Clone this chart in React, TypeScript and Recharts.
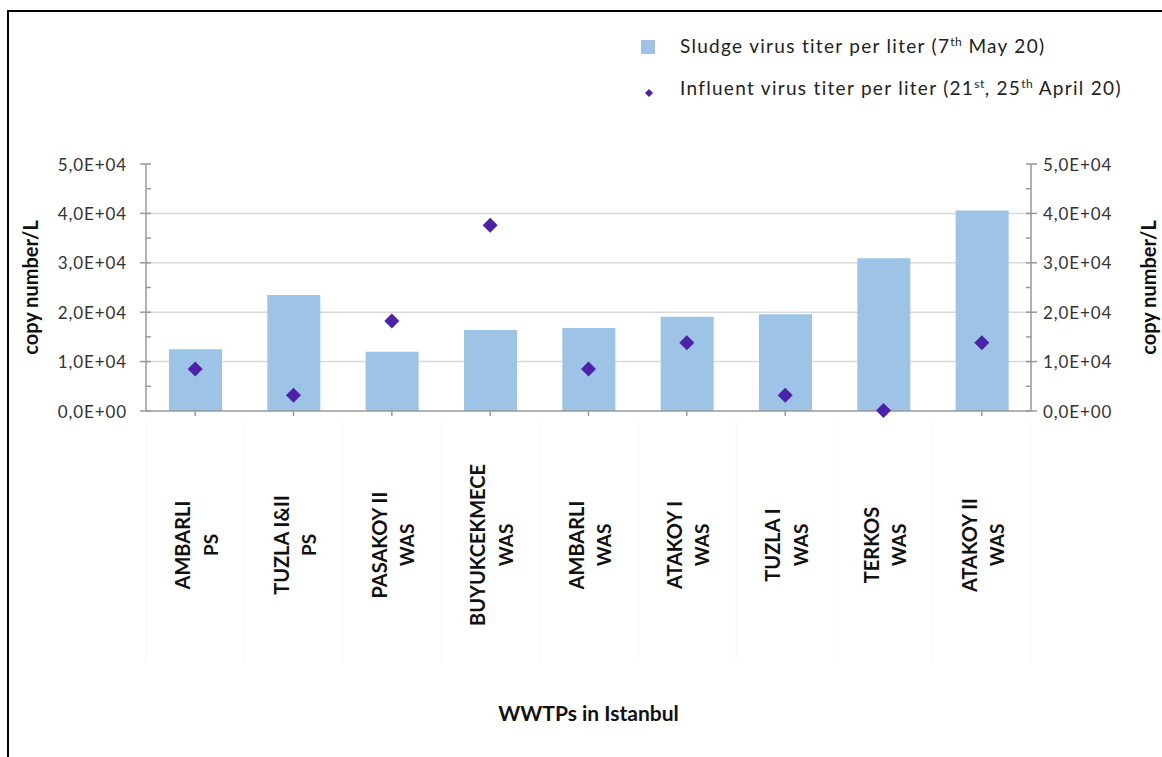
import React from "react";
import {
  ComposedChart,
  Bar,
  Scatter,
  XAxis,
  YAxis,
  CartesianGrid,
  Label,
} from "recharts";

// plant names and treatment type (second label line)
const plants = [
  "AMBARLI",
  "TUZLA I&II",
  "PASAKOY II",
  "BUYUKCEKMECE",
  "AMBARLI",
  "ATAKOY I",
  "TUZLA I",
  "TERKOS",
  "ATAKOY II",
];
const types = ["PS", "PS", "WAS", "WAS", "WAS", "WAS", "WAS", "WAS", "WAS"];

// copy number / L
const sludge = [12500, 23500, 12000, 16400, 16800, 19100, 19600, 30900, 40600];
const influent = [8500, 3200, 18200, 37600, 8500, 13800, 3200, 100, 13800];

const yTicks = [0, 5000, 10000, 15000, 20000, 25000, 30000, 35000, 40000, 45000, 50000];
const gridValues = [10000, 20000, 30000, 40000];

const data = plants.map((p, i) => ({
  id: `${p} ${types[i]} ${i}`,
  sludge: sludge[i],
  influent: influent[i],
}));

const FONT = "Lato, 'Open Sans', sans-serif";
const AXIS = "#999999";
const BAR = "#9DC3E6";
const DOT = "#4B22A8";

const fmt = (v: number) => {
  if (v === 0) return "0,0E+00";
  const e = Math.floor(Math.log10(v));
  const m = (v / Math.pow(10, e)).toFixed(1).replace(".", ",");
  return `${m}E+${String(e).padStart(2, "0")}`;
};

const LeftTick = (props: any) => {
  const { x, y, payload } = props;
  const major = payload.value % 10000 === 0;
  return (
    <g>
      {major ? (
        <>
          <line x1={x - 6} x2={x + 5} y1={y} y2={y} stroke={AXIS} strokeWidth={1.5} />
          <text
            x={x - 19}
            y={y}
            textAnchor="end"
            dominantBaseline="central"
            fontFamily={FONT}
            fontSize={17}
            letterSpacing={0.9}
            fill="#333"
          >
            {fmt(payload.value)}
          </text>
        </>
      ) : (
        <line x1={x} x2={x + 5} y1={y} y2={y} stroke={AXIS} strokeWidth={1.5} />
      )}
    </g>
  );
};

const RightTick = (props: any) => {
  const { x, y, payload } = props;
  const major = payload.value % 10000 === 0;
  return (
    <g>
      {major ? (
        <>
          <line x1={x - 5} x2={x + 6} y1={y} y2={y} stroke={AXIS} strokeWidth={1.5} />
          <text
            x={x + 12}
            y={y}
            textAnchor="start"
            dominantBaseline="central"
            fontFamily={FONT}
            fontSize={17}
            letterSpacing={0.9}
            fill="#333"
          >
            {fmt(payload.value)}
          </text>
        </>
      ) : (
        <line x1={x - 5} x2={x} y1={y} y2={y} stroke={AXIS} strokeWidth={1.5} />
      )}
    </g>
  );
};

const PlantTick = (props: any) => {
  const { x, y, index } = props;
  const cy = y + 127;
  const half = 49;
  return (
    <g>
      <line x1={x - half} x2={x - half} y1={y + 2} y2={y + 244} stroke="#f7f7f7" />
      {index === plants.length - 1 && (
        <line x1={x + half} x2={x + half} y1={y + 2} y2={y + 244} stroke="#f7f7f7" />
      )}
      <text
        x={x - 13}
        y={cy}
        transform={`rotate(-90, ${x - 13}, ${cy})`}
        textAnchor="middle"
        dominantBaseline="central"
        fontFamily={FONT}
        fontWeight={700}
        fontSize={20}
        fill="#111"
      >
        {plants[index]}
      </text>
      <text
        x={x + 15}
        y={cy}
        transform={`rotate(-90, ${x + 15}, ${cy})`}
        textAnchor="middle"
        dominantBaseline="central"
        fontFamily={FONT}
        fontWeight={700}
        fontSize={19}
        fill="#111"
      >
        {types[index]}
      </text>
    </g>
  );
};

const Diamond = (props: any) => {
  const { cx, cy } = props;
  const r = 7.5;
  return (
    <path
      d={`M${cx},${cy - r} L${cx + r},${cy} L${cx},${cy + r} L${cx - r},${cy} Z`}
      fill={DOT}
    />
  );
};

const yTitle = (side: "left" | "right") => (p: any) => {
  const vb = p.viewBox;
  const x = side === "left" ? vb.x + 30 : vb.x + vb.width - 14;
  const y = vb.y + vb.height / 2;
  return (
    <text
      x={x}
      y={y}
      transform={`rotate(-90, ${x}, ${y})`}
      textAnchor="middle"
      dominantBaseline="central"
      fontFamily={FONT}
      fontWeight={700}
      fontSize={20}
      fill="#111"
    >
      copy number/L
    </text>
  );
};

const legendText: React.CSSProperties = {
  position: "absolute",
  left: 680,
  fontFamily: FONT,
  fontSize: 19,
  letterSpacing: 1.3,
  color: "#222",
  whiteSpace: "nowrap",
  lineHeight: "22px",
};

const supStyle: React.CSSProperties = { fontSize: 12, lineHeight: 0, letterSpacing: 0.5 };

export default function App() {
  return (
    <div style={{ position: "absolute", left: 0, top: 0, width: 1162, height: 757, background: "#fff" }}>
      <div
        style={{
          position: "absolute",
          left: 7,
          top: 10,
          width: 1155,
          height: 747,
          borderTop: "2px solid #000",
          borderLeft: "2px solid #000",
          boxSizing: "border-box",
        }}
      />
      <ComposedChart
        width={1162}
        height={757}
        data={data}
        margin={{ top: 164, right: 0, bottom: 0, left: 0 }}
        style={{ position: "absolute", left: 0, top: 0 }}
      >
        <CartesianGrid
          vertical={false}
          horizontalValues={gridValues}
          stroke="#d9d9d9"
          strokeWidth={1.5}
          yAxisId="left"
        />
        <XAxis
          dataKey="id"
          height={346}
          axisLine={{ stroke: AXIS, strokeWidth: 1.5 }}
          tickLine={{ stroke: AXIS, strokeWidth: 1.5 }}
          tickSize={5}
          tick={<PlantTick />}
          interval={0}
        >
          <Label
            value="WWTPs in Istanbul"
            position="insideBottom"
            offset={36}
            fontFamily={FONT}
            fontWeight={700}
            fontSize={21}
            fill="#111"
          />
        </XAxis>
        <YAxis
          yAxisId="left"
          width={146}
          domain={[0, 50000]}
          ticks={yTicks}
          interval={0}
          tickLine={false}
          tickSize={0}
          tickMargin={0}
          axisLine={{ stroke: AXIS, strokeWidth: 1.5 }}
          tick={<LeftTick />}
        >
          <Label content={yTitle("left")} />
        </YAxis>
        <YAxis
          yAxisId="right"
          orientation="right"
          width={131}
          domain={[0, 50000]}
          ticks={yTicks}
          interval={0}
          tickLine={false}
          tickSize={0}
          tickMargin={0}
          axisLine={{ stroke: AXIS, strokeWidth: 1.5 }}
          tick={<RightTick />}
        >
          <Label content={yTitle("right")} />
        </YAxis>
        <Bar yAxisId="left" dataKey="sludge" fill={BAR} barSize={53} isAnimationActive={false} />
        <Scatter
          yAxisId="right"
          dataKey="influent"
          fill={DOT}
          shape={<Diamond />}
          isAnimationActive={false}
        />
      </ComposedChart>
      <div style={{ position: "absolute", left: 641, top: 40, width: 14, height: 14, background: BAR }} />
      <div style={{ ...legendText, top: 35 }}>
        Sludge virus titer per liter (7<sup style={supStyle}>th</sup> May 20)
      </div>
      <svg style={{ position: "absolute", left: 644, top: 88 }} width={10} height={10}>
        <path d="M5,1 L9,5 L5,9 L1,5 Z" fill={DOT} />
      </svg>
      <div style={{ ...legendText, top: 77 }}>
        Influent virus titer per liter (21<sup style={supStyle}>st</sup>, 25
        <sup style={supStyle}>th</sup> April 20)
      </div>
    </div>
  );
}
